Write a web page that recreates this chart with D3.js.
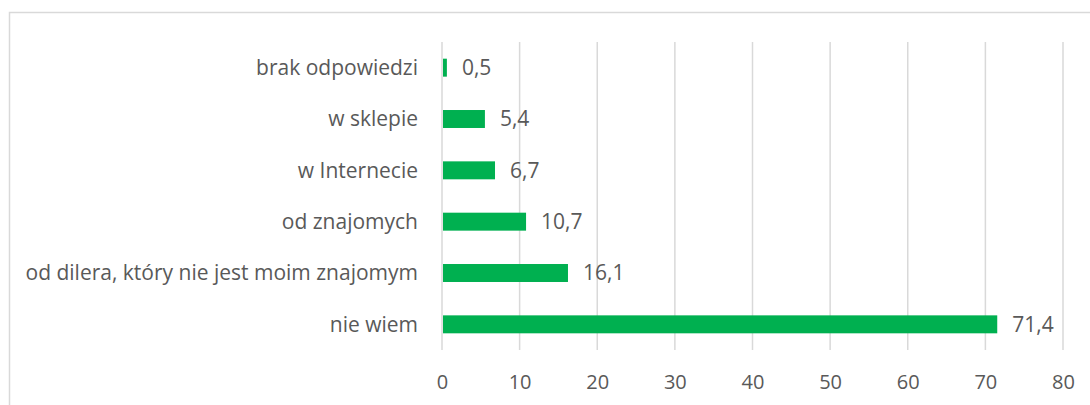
<!DOCTYPE html>
<html>
<head>
<meta charset="utf-8">
<script src="https://cdn.jsdelivr.net/npm/d3@7"></script>
<style>
  body { margin: 0; background: #fff; }
  svg text { font-family: "Open Sans", "Noto Sans", sans-serif; fill: #595959; }
</style>
</head>
<body>
<svg id="chart" width="1090" height="405"></svg>
<script>
var categories = ["brak odpowiedzi", "w sklepie", "w Internecie", "od znajomych",
  "od dilera, który nie jest moim znajomym", "nie wiem"];
var values = [0.5, 5.4, 6.7, 10.7, 16.1, 71.4];
var tickValues = [0, 10, 20, 30, 40, 50, 60, 70, 80];

var svg = d3.select('#chart');
var margin = {left: 442, right: 27, top: 42, bottom: 55};
var width = 1090 - margin.left - margin.right;
var height = 405 - margin.top - margin.bottom;

// frame
svg.append('rect').attr('x', 9.5).attr('y', 12.5).attr('width', 1100).attr('height', 420)
  .attr('fill', 'none').attr('stroke', '#d9d9d9').attr('stroke-width', 1.5);

var x = d3.scaleLinear().domain([0, 80]).range([0, width]);
var y = d3.scaleBand().domain(categories).range([0, height]).paddingInner(0.65).paddingOuter(0.325);

var g = svg.append('g').attr('transform', 'translate(' + margin.left + ',' + margin.top + ')');

g.selectAll('line.grid').data(tickValues).enter().append('line')
  .attr('class', 'grid')
  .attr('x1', function(d){ return x(d); }).attr('x2', function(d){ return x(d); })
  .attr('y1', 0).attr('y2', height)
  .attr('stroke', '#d9d9d9').attr('stroke-width', 1.5);

var xAxis = g.append('g').attr('transform', 'translate(0,' + height + ')')
  .call(d3.axisBottom(x).tickValues(tickValues).tickSize(0).tickPadding(25).tickFormat(d3.format('d')));
xAxis.select('.domain').remove();
xAxis.selectAll('text').style('font-size', '20px').attr('fill', '#595959');

g.selectAll('rect.bar').data(values).enter().append('rect')
  .attr('class', 'bar')
  .attr('x', x(0) + 1)
  .attr('y', function(d, i){ return y(categories[i]); })
  .attr('width', function(d){ return x(d) - x(0); })
  .attr('height', y.bandwidth())
  .attr('fill', '#00b050');

g.selectAll('text.val').data(values).enter().append('text')
  .attr('class', 'val')
  .attr('x', function(d){ return x(d) + 16; })
  .attr('y', function(d, i){ return y(categories[i]) + y.bandwidth() / 2; })
  .attr('dy', '0.35em')
  .style('font-size', '21px')
  .text(function(d){ return String(d).replace('.', ','); });

g.selectAll('text.cat').data(categories).enter().append('text')
  .attr('class', 'cat')
  .attr('x', -24)
  .attr('y', function(d){ return y(d) + y.bandwidth() / 2; })
  .attr('dy', '0.35em')
  .attr('text-anchor', 'end')
  .style('font-size', '21px')
  .text(function(d){ return d; });
</script>
</body>
</html>
